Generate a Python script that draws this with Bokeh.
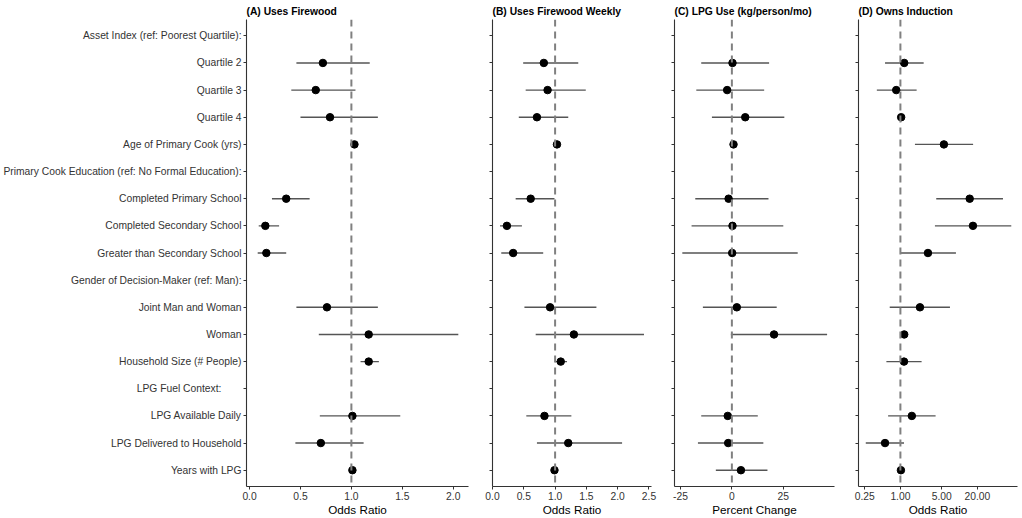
import numpy as np
from bokeh.plotting import figure
from bokeh.layouts import row
from bokeh.models import (Range1d, FixedTicker, NumeralTickFormatter, Span, ColumnDataSource,
                          CustomJSTickFormatter)
from bokeh.embed import file_html
from bokeh.resources import INLINE

NB = "\u00a0"
categories = [
    "Asset Index (ref: Poorest Quartile):",
    "Quartile 2",
    "Quartile 3",
    "Quartile 4",
    "Age of Primary Cook (yrs)",
    "Primary Cook Education (ref: No Formal Education):",
    "Completed Primary School",
    "Completed Secondary School",
    "Greater than Secondary School",
    "Gender of Decision-Maker (ref: Man):",
    "Joint Man and Woman",
    "Woman",
    "Household Size (# People)",
    "LPG Fuel Context:" + NB * 7,
    "LPG Available Daily",
    "LPG Delivered to Household",
    "Years with LPG",
]
nan = float("nan")

# (A) Uses Firewood - odds ratios
a_est = [nan, 0.72, 0.65, 0.79, 1.03, nan, 0.36, 0.155, 0.165, nan, 0.76, 1.17, 1.17, nan, 1.01, 0.70, 1.01]
a_lo  = [nan, 0.46, 0.41, 0.50, 1.01, nan, 0.22, 0.09, 0.08, nan, 0.46, 0.68, 1.09, nan, 0.69, 0.45, 0.99]
a_hi  = [nan, 1.18, 1.04, 1.26, 1.05, nan, 0.59, 0.29, 0.36, nan, 1.26, 2.05, 1.27, nan, 1.48, 1.12, 1.03]

# (B) Uses Firewood Weekly - odds ratios
b_est = [nan, 0.82, 0.88, 0.71, 1.03, nan, 0.61, 0.23, 0.33, nan, 0.92, 1.30, 1.09, nan, 0.83, 1.21, 0.99]
b_lo  = [nan, 0.49, 0.53, 0.42, 1.01, nan, 0.37, 0.12, 0.14, nan, 0.51, 0.69, 1.00, nan, 0.54, 0.71, 0.97]
b_hi  = [nan, 1.37, 1.49, 1.21, 1.05, nan, 0.99, 0.47, 0.81, nan, 1.66, 2.42, 1.19, nan, 1.26, 2.07, 1.01]

# (C) LPG Use (kg/person/mo) - percent change
c_est = [nan, 0.3, -2.3, 6.5, 0.8, nan, -1.6, 0.3, 0.15, nan, 2.4, 20.5, nan, nan, -2.0, -1.8, 4.4]
c_lo  = [nan, -14.9, -17.3, -9.7, 0.3, nan, -17.8, -19.6, -24.1, nan, -14.1, -0.5, nan, nan, -14.9, -16.5, -7.8]
c_hi  = [nan, 18.1, 15.7, 25.5, 1.3, nan, 17.8, 25.0, 32.0, nan, 21.8, 46.3, nan, nan, 12.6, 15.3, 17.3]

# (D) Owns Induction - odds ratios
d_est = [nan, 1.16, 0.85, 1.03, 5.43, nan, 14.8, 16.8, 2.92, nan, 2.14, 1.16, 1.15, nan, 1.56, 0.55, 1.02]
d_lo  = [nan, 0.55, 0.40, 0.98, 1.76, nan, 4.03, 3.83, 1.00, nan, 0.66, 1.08, 0.58, nan, 0.62, 0.26, 0.99]
d_hi  = [nan, 2.47, 1.88, 1.08, 16.9, nan, 54.0, 74.6, 8.67, nan, 6.87, 1.25, 2.28, nan, 3.93, 1.15, 1.05]

titles = ["(A) Uses Firewood", "(B) Uses Firewood Weekly", "(C) LPG Use (kg/person/mo)", "(D) Owns Induction"]
xlabels = ["Odds Ratio", "Odds Ratio", "Percent Change", "Odds Ratio"]
x_ticks_a = [0.0, 0.5, 1.0, 1.5, 2.0]
x_ticks_b = [0.0, 0.5, 1.0, 1.5, 2.0, 2.5]
x_ticks_c = [-25, 0, 25]
x_ticks_d = [0.25, 1, 5, 20]

FONT = "Liberation Sans"
ypos = np.arange(len(categories), 0, -1).astype(float)
H = 518


def panel(title, est, lo, hi, xr, ticks, fmt, ref, width, bl, br, show_y, xlabel, log=False):
    p = figure(width=width, height=H, x_range=xr, y_range=Range1d(0.4, len(categories) + 0.6),
               x_axis_type="log" if log else "linear",
               output_backend="svg", toolbar_location=None,
               min_border_left=bl, min_border_right=br, min_border_top=2, min_border_bottom=0)
    p.outline_line_color = None
    p.grid.visible = False
    p.background_fill_color = "white"
    p.border_fill_color = "white"
    p.title.text = title
    p.title.text_font = FONT
    p.title.text_font_size = "10.3px"
    p.title.text_font_style = "bold"
    p.title.text_color = "black"
    p.title.align = "left"
    p.title.offset = 0
    p.title.standoff = 6

    for ax in (p.xaxis[0], p.yaxis[0]):
        ax.axis_line_color = "#333333"
        ax.axis_line_width = 1.1
        ax.major_tick_line_color = "#333333"
        ax.major_tick_out = 3
        ax.major_tick_in = 0
        ax.minor_tick_line_color = None
        ax.major_label_text_font = FONT
        ax.major_label_text_color = "#333333"
        ax.major_label_standoff = 2

    xa = p.xaxis[0]
    xa.ticker = FixedTicker(ticks=ticks)
    xa.formatter = NumeralTickFormatter(format=fmt)
    xa.major_label_text_font_size = "10.3px"
    xa.major_label_text_line_height = 1.0
    xa.axis_label = xlabel
    xa.axis_label_text_font = FONT
    xa.axis_label_text_font_size = "11.7px"
    xa.axis_label_text_font_style = "normal"
    xa.axis_label_text_color = "black"
    xa.axis_label_text_line_height = 1.0
    xa.axis_label_standoff = 0

    ya = p.yaxis[0]
    ya.ticker = FixedTicker(ticks=list(ypos))
    if show_y:
        ya.major_label_overrides = {float(y): c for y, c in zip(ypos, categories)}
        ya.major_label_text_font_size = "10.3px"
    else:
        ya.formatter = CustomJSTickFormatter(code="return '';")
        ya.major_label_standoff = 0

    p.add_layout(Span(location=ref, dimension="height", line_color="#808080",
                      line_width=2, line_dash="7 5"))
    src = ColumnDataSource(dict(y=ypos, est=np.array(est, dtype=float),
                                lo=np.array(lo, dtype=float), hi=np.array(hi, dtype=float)))
    p.segment(x0="lo", x1="hi", y0="y", y1="y", source=src, line_color="#555555", line_width=1.4)
    p.scatter(x="est", y="y", source=src, size=7.5, fill_color="black", line_color="black")
    return p


pA = panel(titles[0], a_est, a_lo, a_hi, Range1d(-0.03, 2.15), x_ticks_a, "0.0", 1, 480, 246, 12, True, xlabels[0])
pB = panel(titles[1], b_est, b_lo, b_hi, Range1d(0.0, 2.54), x_ticks_b, "0.0", 1, 183, 12, 12, False, xlabels[1])
pC = panel(titles[2], c_est, c_lo, c_hi, Range1d(-27.9, 49.9), x_ticks_c, "0", 0, 183, 11, 12, False, xlabels[2])
pD = panel(titles[3], d_est, d_lo, d_hi, Range1d(0.196, 95.0), x_ticks_d, "0.00", 1, 174, 12, 3, False, xlabels[3], log=True)

layout = row(pA, pB, pC, pD)
open("out.html", "w").write(file_html(layout, INLINE))
